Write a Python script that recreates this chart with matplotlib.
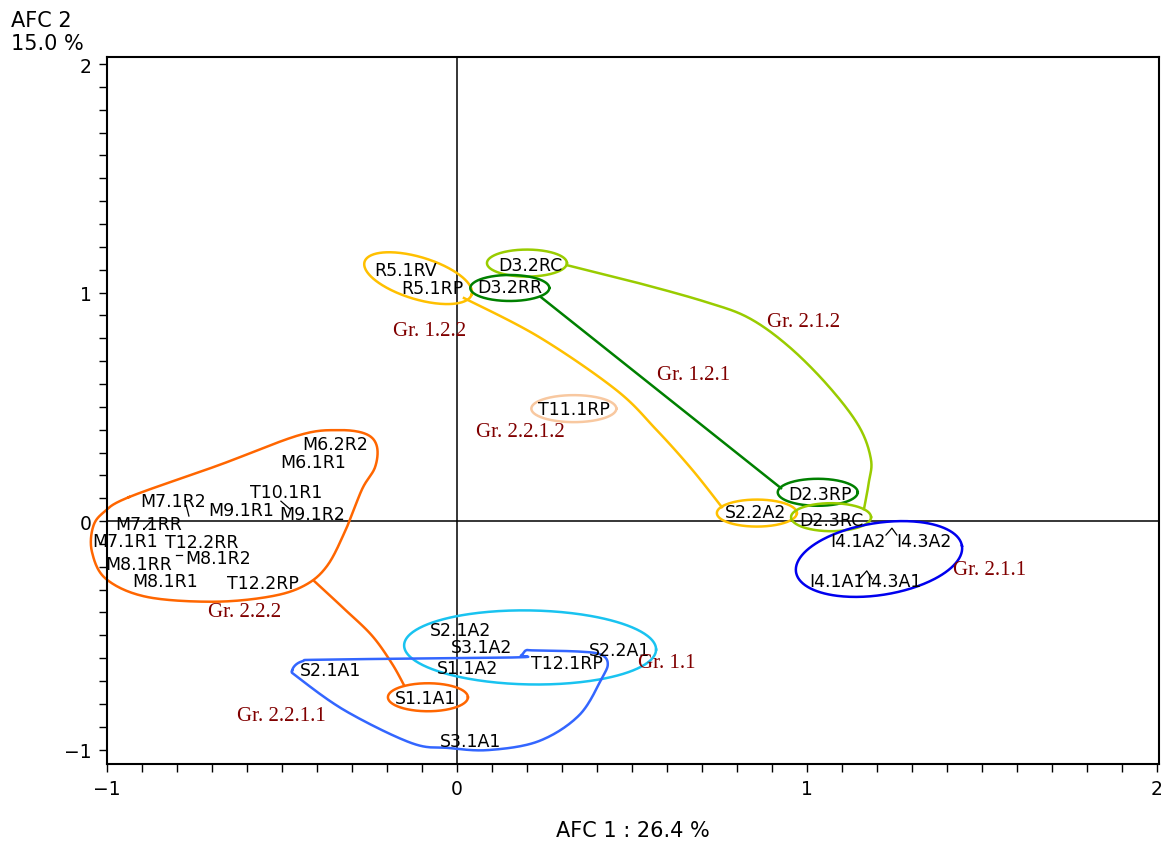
import matplotlib
matplotlib.use('Agg')

import numpy as np
import matplotlib.pyplot as plt
from matplotlib.ticker import MultipleLocator

# point labels and their coordinates on the two factorial axes
labels = ["M6.2R2", "M6.1R1", "T10.1R1", "M7.1R2", "M9.1R1", "M9.1R2", "M7.1RR",
          "M7.1R1", "T12.2RR", "M8.1R2", "M8.1RR", "M8.1R1", "T12.2RP",
          "R5.1RV", "R5.1RP", "D3.2RC", "D3.2RR", "T11.1RP",
          "D2.3RP", "S2.2A2", "D2.3RC", "I4.1A2", "I4.3A2", "I4.1A1", "I4.3A1",
          "S2.1A2", "S3.1A2", "S2.2A1", "S1.1A2", "T12.1RP", "S2.1A1", "S1.1A1", "S3.1A1"]
afc1 = [-0.349, -0.411, -0.489, -0.811, -0.617, -0.414, -0.880,
        -0.949, -0.729, -0.683, -0.909, -0.834, -0.554,
        -0.146, -0.069, 0.209, 0.151, 0.334,
        1.037, 0.854, 1.069, 1.146, 1.334, 1.086, 1.249,
        0.009, 0.069, 0.466, 0.029, 0.314, -0.360, -0.089, 0.040]
afc2 = [0.336, 0.257, 0.127, 0.087, 0.048, 0.031, -0.013,
        -0.087, -0.092, -0.161, -0.190, -0.262, -0.270,
        1.098, 1.022, 1.120, 1.024, 0.492,
        0.118, 0.039, 0.004, -0.087, -0.087, -0.261, -0.261,
        -0.475, -0.549, -0.566, -0.641, -0.623, -0.650, -0.774, -0.961]

# small leader lines drawn by the labelling
leaders = [[(-0.774, 0.070), (-0.766, 0.022)],
           [(-0.894, -0.035), (-0.871, 0.004)],
           [(-0.503, 0.087), (-0.477, 0.052)],
           [(-0.803, -0.150), (-0.786, -0.150)],
           [(-1.006, -0.179), (-1.006, -0.209)],
           [(1.226, -0.061), (1.243, -0.031), (1.257, -0.061)],
           [(1.151, -0.253), (1.171, -0.218), (1.186, -0.253)]]

# group names
groups = ["Gr. 1.2.2", "Gr. 2.1.2", "Gr. 1.2.1", "Gr. 2.2.1.2",
          "Gr. 2.1.1", "Gr. 2.2.2", "Gr. 1.1", "Gr. 2.2.1.1"]
group_x = [-0.077, 0.991, 0.675, 0.180, 1.523, -0.606, 0.600, -0.503]
group_y = [0.834, 0.875, 0.642, 0.390, -0.214, -0.397, -0.620, -0.850]

# ellipses around labels: centre (data), width/height (px), angle, colour
ellipses = [(-0.111, 1.063, 112, 42, -17, "#FFC000"),
            (0.200, 1.129, 80, 27, 0, "#99CC00"),
            (0.151, 1.020, 79, 26, 0, "#008000"),
            (0.334, 0.492, 85, 27, 0, "#F8C8A0"),
            (1.031, 0.126, 80, 27, 0, "#008000"),
            (0.857, 0.035, 80, 27, 0, "#FFC000"),
            (1.069, 0.017, 80, 28, 0, "#99CC00"),
            (1.206, -0.166, 168, 72, 9, "#0000EE"),
            (0.209, -0.553, 252, 74, -1, "#19C3F0"),
            (-0.083, -0.771, 80, 28, 0, "#FF6600")]

# freehand outlines and connectors (data coordinates)
orange_blob = [(-0.937, 0.105), (-0.680, 0.245), (-0.451, 0.376), (-0.337, 0.398),
               (-0.260, 0.381), (-0.229, 0.328), (-0.234, 0.236), (-0.271, 0.140),
               (-0.317, -0.035), (-0.371, -0.196), (-0.437, -0.283),
               (-0.537, -0.331), (-0.700, -0.353), (-0.889, -0.331), (-1.003, -0.253),
               (-1.043, -0.135), (-1.040, -0.026), (-1.009, 0.039)]
orange_link = [(-0.409, -0.261), (-0.323, -0.383), (-0.243, -0.501),
               (-0.186, -0.623), (-0.151, -0.719)]
blue_blob = [(-0.471, -0.654), (-0.443, -0.614), (-0.366, -0.606), (0.157, -0.597),
             (0.183, -0.588), (0.197, -0.566), (0.220, -0.566), (0.349, -0.571),
             (0.411, -0.584), (0.431, -0.623), (0.414, -0.688), (0.349, -0.850),
             (0.234, -0.963), (0.091, -1.002), (-0.023, -0.993), (-0.129, -0.972),
             (-0.317, -0.832), (-0.451, -0.688)]
yellow_link = [(0.020, 0.976), (0.234, 0.806), (0.454, 0.575), (0.569, 0.401),
               (0.671, 0.227), (0.757, 0.061)]
green_link = [(0.240, 0.980), (0.926, 0.144)]
ygreen_link = [(0.314, 1.120), (0.520, 1.041), (0.711, 0.959), (0.834, 0.889),
               (0.949, 0.763), (1.063, 0.588), (1.149, 0.414), (1.183, 0.270),
               (1.177, 0.170), (1.163, 0.052)]


def smooth(pts, closed=False, n=24):
    # catmull-rom through the given points
    p = np.asarray(pts, float)
    if closed:
        p = np.vstack([p[-1], p, p[0], p[1]])
    else:
        p = np.vstack([p[0], p, p[-1]])
    out = []
    t = np.linspace(0, 1, n, endpoint=False)[:, None]
    for i in range(1, len(p) - 2):
        p0, p1, p2, p3 = p[i - 1], p[i], p[i + 1], p[i + 2]
        seg = 0.5 * (2 * p1 + (-p0 + p2) * t + (2 * p0 - 5 * p1 + 4 * p2 - p3) * t ** 2
                     + (-p0 + 3 * p1 - 3 * p2 + p3) * t ** 3)
        out.append(seg)
    out.append(p[-2][None])
    return np.vstack(out)


fig = plt.figure(figsize=(11.67, 8.45), dpi=100)
ax = fig.add_axes([0.0917, 0.0947, 0.9014, 0.8367])
xlim = (-1.0, 2.006)
ylim = (-1.063, 2.031)
ax.set_xlim(*xlim)
ax.set_ylim(*ylim)

# px per data unit, for the ellipses
sx = 11.67 * 100 * 0.9014 / (xlim[1] - xlim[0])
sy = 8.45 * 100 * 0.8367 / (ylim[1] - ylim[0])

ax.axhline(0, color="black", lw=1.1, zorder=1)
ax.axvline(0, color="black", lw=1.1, zorder=1)

tt = np.linspace(0, 2 * np.pi, 300)
for cx, cy, w, h, ang, col in ellipses:
    r = np.radians(ang)
    u = w / 2 * np.cos(tt)
    v = h / 2 * np.sin(tt)
    ex = cx + (u * np.cos(r) - v * np.sin(r)) / sx
    ey = cy + (u * np.sin(r) + v * np.cos(r)) / sy
    ax.plot(ex, ey, color=col, lw=1.8, zorder=2)

for pts, col, closed in [(orange_blob, "#FF6600", True), (orange_link, "#FF6600", False),
                         (blue_blob, "#3366FF", True), (yellow_link, "#FFC000", False),
                         (ygreen_link, "#99CC00", False)]:
    c = smooth(pts, closed)
    ax.plot(c[:, 0], c[:, 1], color=col, lw=1.8, zorder=2, clip_on=False)

gl = np.array(green_link)
ax.plot(gl[:, 0], gl[:, 1], color="#008000", lw=1.8, zorder=2)

for ld in leaders:
    ld = np.array(ld)
    ax.plot(ld[:, 0], ld[:, 1], color="black", lw=0.9, zorder=3)

for lab, x, y in zip(labels, afc1, afc2):
    ax.text(x, y, lab, ha="center", va="center", fontsize=12.5,
            family="DejaVu Sans", zorder=4)

for g, x, y in zip(groups, group_x, group_y):
    ax.text(x, y, g, ha="center", va="center", fontsize=15,
            family="Liberation Serif", color="#800000", zorder=4)

ax.xaxis.set_major_locator(MultipleLocator(1))
ax.yaxis.set_major_locator(MultipleLocator(1))
ax.xaxis.set_minor_locator(MultipleLocator(0.1))
ax.yaxis.set_minor_locator(MultipleLocator(0.1))
ax.tick_params(which="both", direction="out", length=6, width=1)
ax.tick_params(which="major", labelsize=13.5, pad=5)
for s in ax.spines.values():
    s.set_linewidth(1.5)

ax.set_xlabel("AFC 1 : 26.4 %", fontsize=15, labelpad=16)
fig.text(0.009, 0.975, "AFC 2", fontsize=15, ha="left", va="center")
fig.text(0.009, 0.948, "15.0 %", fontsize=15, ha="left", va="center")

fig.savefig("out.png", dpi=100)
